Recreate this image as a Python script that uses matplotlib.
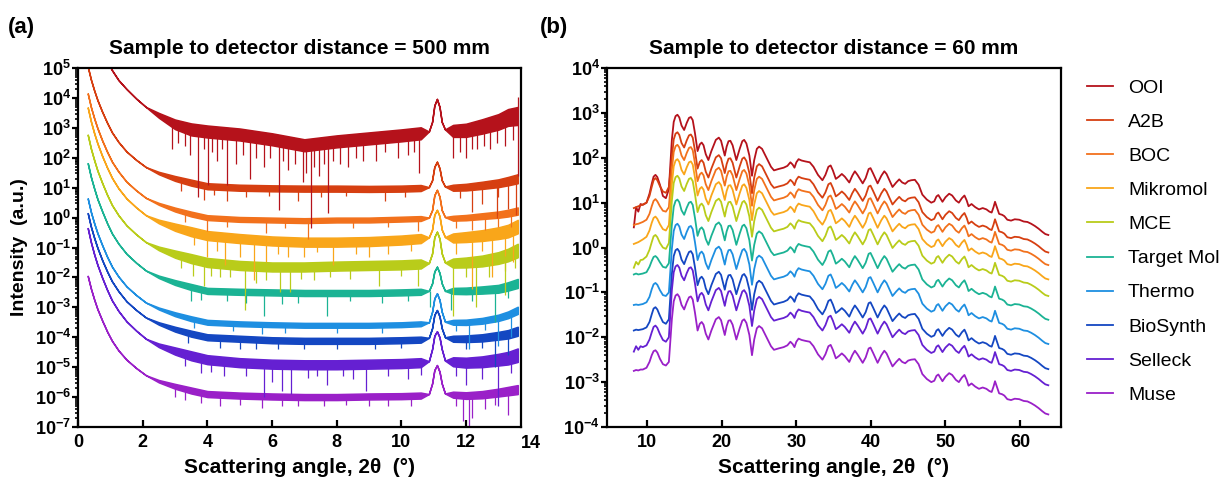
import matplotlib
matplotlib.use('Agg')
import matplotlib.pyplot as plt
import matplotlib.ticker as ticker
import numpy as np

plt.rcParams['font.family'] = ['Liberation Sans', 'DejaVu Sans']
plt.rcParams['font.weight'] = 'bold'
plt.rcParams['mathtext.fontset'] = 'custom'
plt.rcParams['mathtext.rm'] = 'Liberation Sans'
plt.rcParams['mathtext.bf'] = 'Liberation Sans:bold'

NAMES = ['OOI', 'A2B', 'BOC', 'Mikromol', 'MCE', 'Target Mol', 'Thermo', 'BioSynth', 'Selleck', 'Muse']
COLORS = ['#B5121B', '#D63F11', '#F2711C', '#F9A61A', '#B9CC1A',
          '#1BB394', '#1E8FE1', '#1447C2', '#6520D2', '#9A20C8']

# ---------------- (a) 500 mm : log10 intensity on a common 2theta grid
XA = [0.3, 0.4, 0.5, 0.6, 0.75, 0.9, 1.05, 1.25, 1.5, 1.8, 2.1, 2.5, 3.0, 3.5, 4.0,
      5.0, 6.0, 7.0, 8.0, 9.0, 10.0, 10.6,
      10.85, 10.95, 11.02, 11.1, 11.18, 11.25, 11.35,
      11.6, 12.0, 12.5, 13.0, 13.3, 13.6]
OOI_A = [7.0, 6.6, 6.3, 6.0, 5.6, 5.25, 4.93, 4.6, 4.3, 3.98, 3.7, 3.42, 3.12, 2.95, 2.88,
         2.78, 2.62, 2.42, 2.55, 2.65, 2.75, 2.82, 2.88, 3.2, 3.75, 3.97, 3.7, 3.2, 2.95,
         2.9, 2.92, 3.05, 3.2, 3.35, 3.4]
A2B_A = [5.05, 4.61, 4.25, 3.93, 3.53, 3.17, 2.85, 2.53, 2.21, 1.93, 1.69, 1.49, 1.31, 1.17, 1.05,
         1.0, 0.98, 0.97, 0.97, 0.96, 0.97, 0.99, 1.02, 1.25, 1.7, 1.87, 1.65, 1.25, 1.04,
         1.0, 1.02, 1.08, 1.15, 1.22, 1.3]
BOC_A = [4.15, 3.69, 3.32, 2.99, 2.57, 2.2, 1.87, 1.54, 1.2, 0.91, 0.66, 0.46, 0.27, 0.12, 0.0,
         -0.06, -0.08, -0.1, -0.08, -0.08, -0.05, -0.03, 0.0, 0.25, 0.75, 0.93, 0.7, 0.25, 0.02,
         -0.02, 0.0, 0.05, 0.1, 0.15, 0.22]
MIK_A = [3.68, 3.21, 2.82, 2.48, 2.05, 1.67, 1.33, 0.98, 0.64, 0.34, 0.08, -0.13, -0.32, -0.47, -0.6,
         -0.7, -0.78, -0.82, -0.82, -0.8, -0.75, -0.7, -0.66, -0.4, 0.1, 0.26, 0.05, -0.4, -0.65,
         -0.68, -0.65, -0.6, -0.52, -0.45, -0.3]
MCE_A = [2.77, 2.3, 1.92, 1.57, 1.15, 0.76, 0.42, 0.08, -0.26, -0.56, -0.82, -1.03, -1.22, -1.37, -1.5,
         -1.6, -1.65, -1.65, -1.62, -1.6, -1.58, -1.55, -1.52, -1.2, -0.65, -0.47, -0.7, -1.2, -1.5,
         -1.52, -1.5, -1.45, -1.35, -1.25, -1.1]
TGT_A = [1.82, 1.35, 0.97, 0.62, 0.2, -0.19, -0.53, -0.87, -1.21, -1.51, -1.77, -1.98, -2.17, -2.32, -2.45,
         -2.48, -2.5, -2.52, -2.52, -2.52, -2.5, -2.48, -2.45, -2.2, -1.8, -1.64, -1.85, -2.2, -2.45,
         -2.45, -2.45, -2.42, -2.38, -2.3, -2.2]
THE_A = [0.64, 0.18, -0.19, -0.52, -0.93, -1.31, -1.64, -1.97, -2.3, -2.59, -2.84, -3.04, -3.23, -3.38, -3.5,
         -3.55, -3.58, -3.6, -3.6, -3.6, -3.58, -3.55, -3.5, -3.15, -2.7, -2.53, -2.75, -3.15, -3.48,
         -3.5, -3.5, -3.45, -3.35, -3.25, -3.1]
BIO_A = [0.15, -0.31, -0.68, -1.01, -1.43, -1.8, -2.13, -2.46, -2.8, -3.09, -3.34, -3.54, -3.73, -3.88, -4.0,
         -4.05, -4.1, -4.12, -4.12, -4.12, -4.1, -4.08, -4.02, -3.7, -3.25, -3.09, -3.3, -3.7, -4.0,
         -4.05, -4.05, -4.02, -3.95, -3.9, -3.8]
SEL_A = [-0.35, -0.83, -1.23, -1.58, -2.02, -2.42, -2.77, -3.12, -3.47, -3.78, -4.05, -4.27, -4.46, -4.62, -4.75,
         -4.85, -4.9, -4.92, -4.92, -4.9, -4.88, -4.85, -4.8, -4.4, -3.95, -3.8, -4.0, -4.4, -4.78,
         -4.82, -4.85, -4.82, -4.75, -4.7, -4.6]
MUS_A = [-1.95, -2.38, -2.74, -3.06, -3.45, -3.81, -4.12, -4.44, -4.75, -5.03, -5.27, -5.47, -5.64, -5.78, -5.9,
         -5.95, -5.98, -6.0, -6.0, -5.98, -5.97, -5.95, -5.9, -5.55, -5.1, -4.93, -5.15, -5.55, -5.88,
         -5.92, -5.95, -5.92, -5.85, -5.8, -5.75]
CURVES_A = [OOI_A, A2B_A, BOC_A, MIK_A, MCE_A, TGT_A, THE_A, BIO_A, SEL_A, MUS_A]

# noise: half-width of the scatter band (decades) per sample, relative amount along 2theta
NOISE_A = [0.2, 0.1, 0.08, 0.15, 0.15, 0.1, 0.08, 0.1, 0.15, 0.1]
RAMP_A = [0, 0, 0, 0, 0, 0, 0, 0, 0, 0, 0, 0.4, 0.8, 1, 1,
          1, 1, 1, 1, 1, 1, 1,
          0, 0, 0, 0, 0, 0, 0,
          1, 1.1, 1.2, 1.3, 1.4, 1.5]

# dropout spikes: (2theta, top log10, bottom log10)
SPK_OOI = [(2.92, 3.1, 2.3), (3.1, 3.0, 2.5), (3.3, 2.95, 2.4), (3.45, 2.9, 2.1), (3.72, 2.8, 0.7),
           (3.9, 2.8, 2.3), (4.02, 2.75, 1.1), (4.15, 2.8, 2.2), (4.3, 2.8, 1.9), (4.45, 2.8, 2.3),
           (4.62, 2.75, 1.1), (4.9, 2.7, 1.8), (5.1, 2.7, 2.1), (5.32, 2.7, 1.3), (5.5, 2.7, 2.0),
           (5.75, 2.65, 1.7), (5.95, 2.6, 2.0), (6.22, 2.6, 0.25), (6.35, 2.55, 1.9), (6.5, 2.5, 1.6),
           (6.7, 2.5, 1.8), (6.97, 2.45, 1.2), (7.05, 2.4, 1.5), (7.19, 2.4, -0.35), (7.3, 2.4, 1.7),
           (7.45, 2.45, 1.4), (7.6, 2.45, 1.8), (7.72, 2.5, 0.15), (7.9, 2.5, 1.9), (8.1, 2.52, 1.8),
           (8.36, 2.6, 1.7), (8.6, 2.6, 2.0), (8.8, 2.6, 1.9), (9.22, 2.65, 1.9), (9.5, 2.7, 2.2),
           (9.9, 2.75, 2.0), (10.2, 2.78, 2.1), (10.4, 2.8, 2.2), (10.56, 2.8, 1.5), (11.6, 2.9, 2.0),
           (11.8, 2.9, 2.2), (12.0, 2.92, 2.0), (12.2, 2.93, 2.3), (12.35, 2.95, 2.3), (12.55, 3.0, 2.4),
           (12.75, 3.05, 2.3), (12.95, 3.15, 2.5), (13.2, 3.3, 2.4), (13.45, 3.35, 2.6), (13.62, 4.05, 1.4)]
SPK_A2B = [(3.2, 1.28, 0.9), (3.9, 1.0, 0.6), (4.2, 1.03, 0.75), (4.6, 1.0, 0.55), (5.2, 1.0, 0.7),
           (5.9, 0.98, 0.72), (6.8, 0.97, 0.55), (7.5, 0.97, 0.7), (8.3, 0.97, 0.72), (9.5, 0.96, 0.55),
           (10.1, 0.97, 0.7), (11.8, 1.0, 0.65), (12.2, 1.02, 0.2), (12.5, 1.05, 0.45), (12.95, 1.15, 0.0),
           (13.0, 1.15, 0.7), (13.3, 1.22, 0.3), (13.55, 1.28, 0.1)]
SPK_BOC = [(3.3, 0.2, -0.15), (4.0, 0.0, -0.45), (4.6, -0.04, -0.3), (5.8, -0.08, -0.5), (6.4, -0.08, -0.35),
           (7.1, -0.1, -0.7), (8.5, -0.08, -0.35), (9.6, -0.07, -0.3), (10.5, -0.04, -0.45), (11.7, -0.02, -0.35),
           (12.2, 0.0, -0.4), (12.6, 0.05, -0.4), (13.0, 0.1, -0.3), (13.4, 0.18, -0.3)]
SPK_MIK = [(3.6, -0.45, -0.9), (4.0, -0.6, -1.3), (4.3, -0.62, -1.1), (4.55, -0.7, -1.6), (5.0, -0.7, -1.3),
           (5.45, -0.72, -2.1), (5.8, -0.75, -1.5), (6.2, -0.78, -1.2), (6.5, -0.8, -1.3), (7.0, -0.82, -1.3),
           (7.4, -0.82, -1.15), (7.9, -0.82, -1.6), (8.6, -0.81, -1.2), (9.0, -0.8, -1.3), (9.6, -0.78, -1.2),
           (10.3, -0.74, -1.1), (11.7, -0.67, -1.2), (12.2, -0.65, -2.4), (12.5, -0.6, -1.1), (12.8, -0.58, -2.0),
           (13.2, -0.47, -1.8), (13.45, -0.4, -1.5)]
SPK_MCE = [(3.2, -1.3, -1.7), (3.55, -1.45, -1.95), (3.9, -1.5, -2.3), (4.1, -1.52, -1.95), (4.4, -1.55, -2.0),
           (4.7, -1.57, -2.0), (5.15, -1.6, -3.1), (5.5, -1.62, -2.2), (5.8, -1.64, -2.1), (6.25, -1.65, -2.5),
           (6.55, -1.65, -2.5), (6.9, -1.65, -2.05), (7.3, -1.65, -2.1), (7.8, -1.63, -2.0), (8.4, -1.62, -2.05),
           (9.3, -1.6, -2.3), (10.0, -1.58, -1.95), (10.5, -1.56, -2.3), (11.6, -1.52, -3.3), (12.0, -1.5, -2.0),
           (12.3, -1.5, -3.0), (12.7, -1.42, -2.0), (13.2, -1.28, -2.6), (13.5, -1.15, -1.7)]
SPK_TGT = [(3.5, -2.35, -2.8), (3.8, -2.4, -2.75), (4.6, -2.47, -2.8), (5.2, -2.48, -2.85), (5.75, -2.5, -3.3),
           (6.3, -2.5, -2.9), (6.8, -2.52, -2.85), (7.7, -2.52, -3.3), (8.4, -2.52, -2.8), (9.4, -2.52, -2.85),
           (10.2, -2.5, -2.8), (10.9, -2.45, -3.0), (11.55, -2.45, -3.1), (12.2, -2.45, -2.8), (12.9, -2.38, -3.5),
           (13.3, -2.3, -2.7)]
SPK_THE = [(3.6, -3.4, -3.7), (4.8, -3.54, -3.8), (5.7, -3.58, -3.9), (6.4, -3.58, -3.85), (8.0, -3.6, -3.85),
           (9.4, -3.6, -3.85), (11.7, -3.5, -3.8), (12.1, -3.5, -4.4), (12.6, -3.44, -3.75), (13.0, -3.35, -4.3),
           (13.4, -3.2, -4.0)]
SPK_BIO = [(3.4, -3.85, -4.2), (4.4, -4.03, -4.35), (5.0, -4.05, -4.4), (5.5, -4.08, -4.4), (6.2, -4.1, -4.4),
           (7.0, -4.12, -4.4), (8.0, -4.12, -4.4), (9.2, -4.12, -4.4), (10.0, -4.1, -4.35), (12.0, -4.05, -4.4),
           (12.5, -4.02, -4.35), (12.9, -3.95, -5.0), (13.3, -3.85, -4.6)]
SPK_SEL = [(3.3, -4.55, -4.95), (3.8, -4.7, -5.2), (4.1, -4.77, -5.15), (4.5, -4.8, -5.3), (5.2, -4.86, -5.3),
           (5.75, -4.88, -6.0), (6.0, -4.9, -5.5), (6.3, -4.9, -5.8), (6.6, -4.9, -5.9), (7.1, -4.92, -5.35),
           (7.4, -4.92, -5.3), (7.7, -4.92, -5.6), (8.2, -4.92, -5.3), (8.5, -4.92, -5.4), (8.9, -4.9, -5.8),
           (9.6, -4.9, -5.3), (10.2, -4.88, -5.4), (10.6, -4.86, -5.25), (11.7, -4.82, -5.3), (12.0, -4.85, -5.6),
           (12.5, -4.82, -5.4), (13.0, -4.75, -6.3), (13.4, -4.65, -5.2)]
SPK_MUS = [(3.0, -5.64, -6.0), (3.3, -5.7, -6.1), (3.8, -5.85, -6.2), (4.4, -5.9, -6.3), (5.0, -5.95, -6.25),
           (5.7, -5.97, -6.35), (6.3, -5.98, -6.3), (6.8, -6.0, -6.3), (7.6, -6.0, -6.3), (8.3, -6.0, -6.25),
           (9.0, -5.98, -6.3), (9.6, -5.98, -6.3), (10.3, -5.97, -6.3), (11.7, -5.92, -6.3), (11.9, -5.92, -6.8),
           (12.1, -5.94, -7.1), (12.2, -5.95, -6.7), (12.6, -5.9, -6.4), (12.9, -5.86, -6.25), (13.3, -5.8, -6.6)]
SPIKES_A = [SPK_OOI, SPK_A2B, SPK_BOC, SPK_MIK, SPK_MCE, SPK_TGT, SPK_THE, SPK_BIO, SPK_SEL, SPK_MUS]

# ---------------- (b) 60 mm
XB_LOW = [8.2, 8.5, 8.8, 9.1, 9.4, 9.9, 10.3, 10.6, 10.85, 11.1, 11.35, 11.7, 12.1, 12.5, 12.9]
OOI_BL = [0.45, 0.9, 0.8, 0.97, 0.95, 1.0, 1.2, 1.42, 1.58, 1.62, 1.57, 1.4, 1.15, 1.1, 1.3]
A2B_BL = [0.88, 0.9, 0.92, 0.94, 0.96, 1.0, 1.15, 1.35, 1.5, 1.55, 1.5, 1.37, 1.25, 1.22, 1.35]
BOC_BL = [0.5, 0.52, 0.53, 0.55, 0.57, 0.62, 0.75, 0.92, 1.04, 1.08, 1.03, 0.92, 0.82, 0.8, 0.9]
MIK_BL = [0.08, 0.1, 0.12, 0.15, 0.18, 0.24, 0.38, 0.55, 0.66, 0.69, 0.64, 0.52, 0.41, 0.38, 0.5]
MCE_BL = [-0.45, -0.32, -0.38, -0.28, -0.27, -0.2, -0.05, 0.12, 0.25, 0.28, 0.23, 0.1, 0.0, -0.03, 0.1]
TGT_BL = [-0.6, -0.58, -0.6, -0.59, -0.58, -0.55, -0.43, -0.3, -0.21, -0.19, -0.23, -0.33, -0.43, -0.45, -0.35]
THE_BL = [-1.28, -1.27, -1.28, -1.27, -1.26, -1.22, -1.1, -0.93, -0.82, -0.79, -0.83, -0.95, -1.06, -1.08, -1.0]
BIO_BL = [-1.85, -1.83, -1.84, -1.83, -1.82, -1.78, -1.66, -1.49, -1.36, -1.33, -1.38, -1.52, -1.66, -1.7, -1.6]
SEL_BL = [-2.32, -2.2, -2.28, -2.2, -2.22, -2.18, -2.05, -1.89, -1.77, -1.74, -1.79, -1.93, -2.06, -2.1, -2.0]
MUS_BL = [-2.75, -2.73, -2.74, -2.72, -2.72, -2.68, -2.55, -2.4, -2.31, -2.29, -2.34, -2.48, -2.6, -2.63, -2.55]
LOW_B = [OOI_BL, A2B_BL, BOC_BL, MIK_BL, MCE_BL, TGT_BL, THE_BL, BIO_BL, SEL_BL, MUS_BL]

# main diffraction pattern (Muse, log10) and vertical offset (decades) of each sample
XB_MAIN = [13.3, 13.55, 13.8, 14.05, 14.3, 14.6, 14.95, 15.3, 15.6, 15.85,
           16.1, 16.4, 16.75, 17.05, 17.3, 17.55, 17.85, 18.2, 18.6, 19.2,
           19.6, 19.9, 20.2, 20.4, 20.65, 20.9, 21.15, 21.45, 21.95, 22.4,
           22.75, 23.0, 23.3, 23.7, 24.05, 24.35, 24.7, 25.0, 25.4, 26.0,
           26.6, 27.0, 27.6, 28.3, 28.8, 29.2, 29.5, 29.75, 30.0, 30.3,
           30.7, 31.2, 31.8, 32.3, 32.9, 33.5, 33.9, 34.3, 34.6, 34.9,
           35.3, 35.7, 36.1, 36.5, 37.1, 37.5, 37.85, 38.2, 38.9, 39.3,
           39.7, 39.95, 40.3, 40.9, 41.4, 41.8, 42.1, 42.9, 43.4, 43.8,
           44.2, 44.6, 45.0, 45.4, 45.9, 46.4, 46.9, 47.5, 48.1, 48.5,
           48.8, 49.05, 49.3, 49.6, 50.0, 50.5, 50.9, 51.4, 51.8, 52.2,
           52.55, 52.85, 53.1, 53.5, 54.0, 54.5, 55.0, 55.5, 55.9, 56.2,
           56.45, 56.65, 56.9, 57.2, 57.6, 57.9, 58.3, 58.8, 59.3, 59.9,
           60.5, 61.0, 61.5, 62.0, 62.5, 63.0, 63.4, 63.8]
PROFILE_B = [-1.6, -1.2, -1.07, -1.04, -1.1, -1.28, -1.38, -1.22, -1.11, -1.09,
             -1.16, -1.45, -1.85, -1.7, -1.66, -1.72, -1.92, -2.05, -1.85, -1.6,
             -1.55, -1.62, -1.82, -1.95, -1.75, -1.63, -1.62, -1.72, -2.05, -1.8,
             -1.63, -1.6, -1.68, -1.95, -2.4, -2.05, -1.8, -1.75, -1.8, -2.0,
             -2.2, -2.28, -2.25, -2.22, -2.18, -2.1, -2.15, -2.22, -2.1, -2.03,
             -2.06, -2.08, -2.1, -2.2, -2.38, -2.5, -2.38, -2.2, -2.17, -2.28,
             -2.47, -2.42, -2.36, -2.42, -2.55, -2.4, -2.3, -2.38, -2.57, -2.45,
             -2.25, -2.23, -2.35, -2.57, -2.4, -2.3, -2.36, -2.65, -2.55, -2.48,
             -2.55, -2.58, -2.52, -2.5, -2.49, -2.6, -2.82, -2.93, -3.0, -2.97,
             -2.86, -2.83, -2.9, -2.98, -2.88, -2.8, -2.84, -2.95, -3.0, -2.9,
             -2.84, -2.95, -3.08, -3.03, -3.1, -3.15, -3.12, -3.15, -3.2, -3.22,
             -3.1, -2.98, -3.1, -3.25, -3.27, -3.3, -3.38, -3.4, -3.37, -3.38,
             -3.42, -3.43, -3.47, -3.52, -3.58, -3.65, -3.7, -3.72]
OFFSET_B = [4.0, 3.61, 3.33, 3.01, 2.64, 2.11, 1.57, 1.01, 0.65, 0.0]

TICK_SIZE = 13
LABEL_SIZE = 15


def sci_fmt(v, pos):
    return r'$\mathbf{10^{%d}}$' % int(round(np.log10(v)))


def style_axis(ax):
    for s in ax.spines.values():
        s.set_linewidth(1.6)
    ax.set_yscale('log')
    ax.yaxis.set_major_locator(ticker.LogLocator(base=10, numticks=20))
    ax.yaxis.set_minor_locator(ticker.LogLocator(base=10, subs=np.arange(2, 10), numticks=20))
    ax.yaxis.set_major_formatter(ticker.FuncFormatter(sci_fmt))
    ax.yaxis.set_minor_formatter(ticker.NullFormatter())
    ax.tick_params(axis='y', which='major', direction='out', length=4, width=1.6, pad=1,
                   labelsize=TICK_SIZE)
    ax.tick_params(axis='y', which='minor', direction='out', length=2.5, width=1.2)
    ax.tick_params(axis='x', which='major', direction='in', length=5, width=1.6, pad=5,
                   labelsize=TICK_SIZE)
    ax.set_xlabel('Scattering angle, 2θ  (°)', fontsize=LABEL_SIZE, fontweight='bold', labelpad=5)


fig = plt.figure(figsize=(12.27, 4.83), dpi=100)
axA = fig.add_axes([0.0636, 0.116, 0.361, 0.743])
axB = fig.add_axes([0.4947, 0.116, 0.370, 0.743])

# ---- panel (a)
xa = np.array(XA)
ramp = np.array(RAMP_A)
for curve, spikes, w, c in zip(CURVES_A, SPIKES_A, NOISE_A, COLORS):
    mid = np.array(curve)
    half = w * ramp
    axA.fill_between(xa, 10 ** (mid - half), 10 ** (mid + half), color=c,
                     edgecolor=c, linewidth=1.1)
    axA.vlines([s[0] for s in spikes], [10 ** s[2] for s in spikes],
               [10 ** s[1] for s in spikes], color=c, linewidth=0.9)

style_axis(axA)
axA.set_xlim(0, 13.7)
axA.set_ylim(1e-7, 1e5)
axA.set_xticks([0, 2, 4, 6, 8, 10, 12])
axA.annotate('14', xy=(14, 0), xycoords=('data', 'axes fraction'), xytext=(0, -6),
             textcoords='offset points', ha='center', va='top', fontsize=TICK_SIZE,
             fontweight='bold', annotation_clip=False)
axA.set_ylabel('Intensity  (a.u.)', fontsize=14, fontweight='bold')
axA.yaxis.set_label_coords(-0.112, 0.5)
axA.set_title('Sample to detector distance = 500 mm', fontsize=LABEL_SIZE, fontweight='bold', pad=10)

# ---- panel (b)
lines_b = []
for low, off, c in zip(LOW_B, OFFSET_B, COLORS):
    xs = XB_LOW + XB_MAIN
    ys = [10 ** v for v in low] + [10 ** (v + off) for v in PROFILE_B]
    ln, = axB.plot(xs, ys, color=c, linewidth=1.3)
    lines_b.append(ln)

style_axis(axB)
axB.set_xlim(4.6, 65.5)
axB.set_ylim(1e-4, 1e4)
axB.set_xticks([10, 20, 30, 40, 50, 60])
axB.set_title('Sample to detector distance = 60 mm', fontsize=LABEL_SIZE, fontweight='bold', pad=10)

axB.legend(lines_b, NAMES, loc='upper left', bbox_to_anchor=(1087 / 1227, 1 - 79 / 483),
           bbox_transform=fig.transFigure, frameon=False,
           prop={'size': 14, 'weight': 'normal'}, handlelength=1.34, handletextpad=0.77,
           labelspacing=0.85, borderpad=0, borderaxespad=0)

fig.text(8 / 1227, 1 - 28 / 483, '(a)', fontsize=16, fontweight='bold', va='center')
fig.text(540 / 1227, 1 - 28 / 483, '(b)', fontsize=16, fontweight='bold', va='center')

fig.savefig('out.png', dpi=100, facecolor='white')
